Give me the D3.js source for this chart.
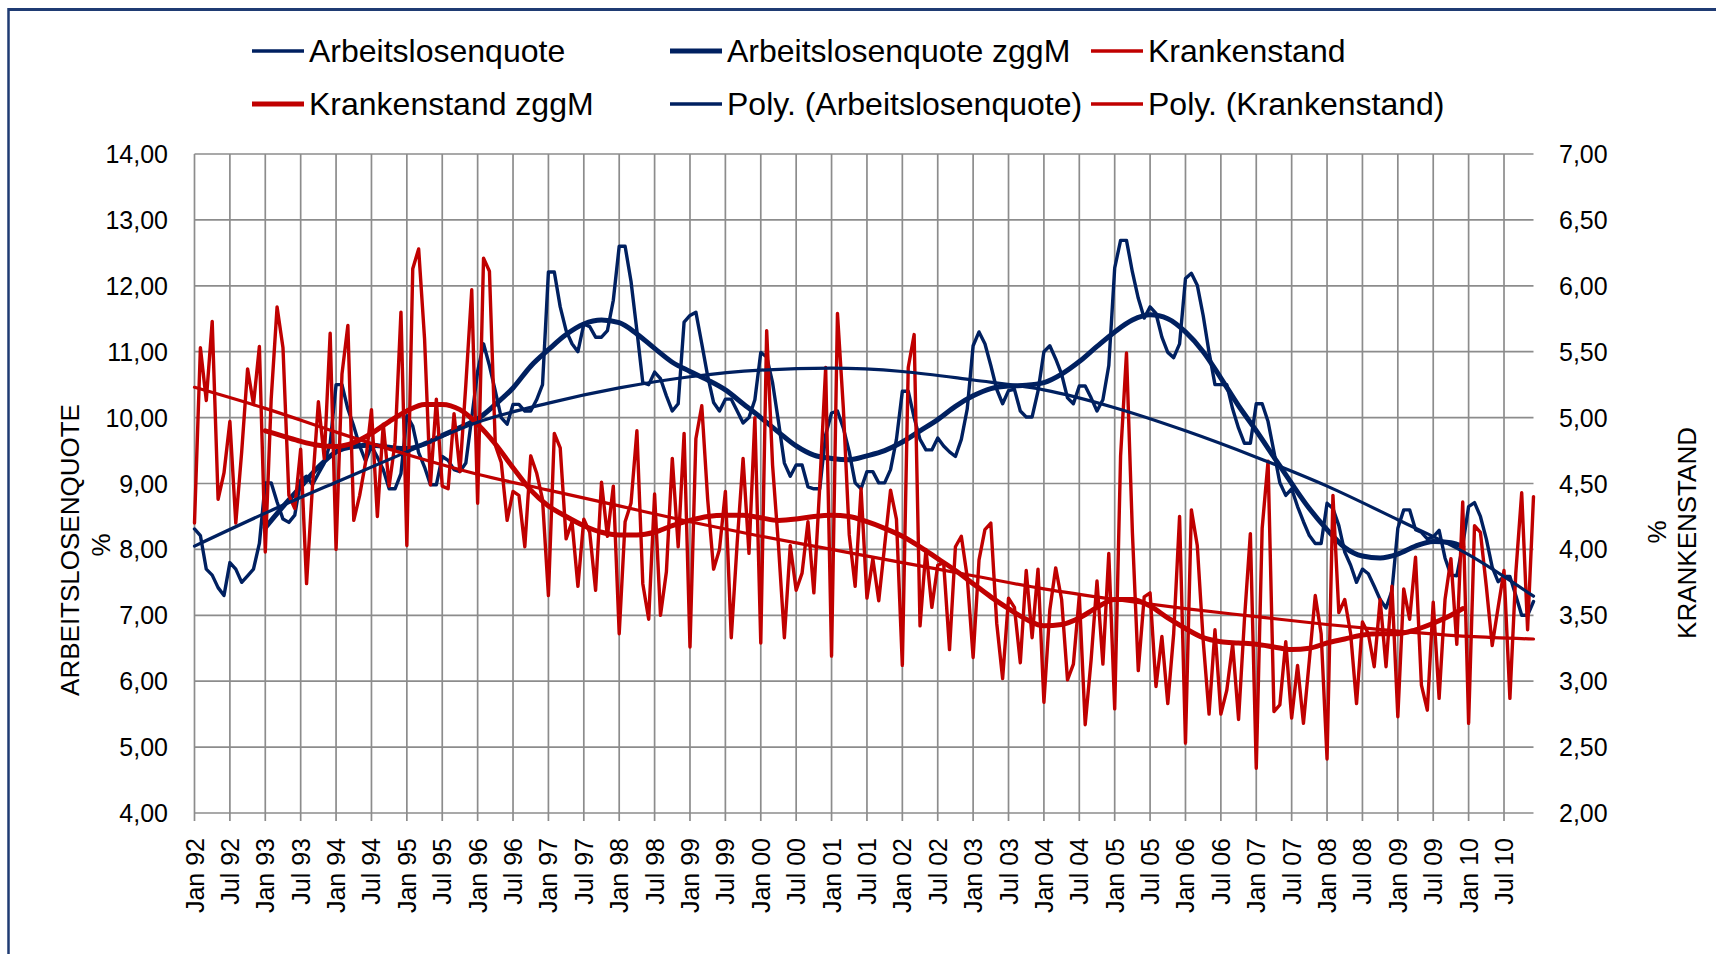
<!DOCTYPE html>
<html><head><meta charset="utf-8">
<script src="https://cdn.jsdelivr.net/npm/d3@7"></script>
<style>
body{margin:0;background:#fff}
svg{display:block}
text{font-family:"Liberation Sans",Arial,sans-serif;fill:#000}
</style>
</head><body>
<svg id="chart" width="1716" height="954"></svg>
<script>
// ---------- DATA ----------
const years = [1992,1993,1994,1995,1996,1997,1998,1999,2000,2001,2002,2003,2004,2005,2006,2007,2008,2009,2010];
const monthNames = ["Jan","Feb","Mär","Apr","Mai","Jun","Jul","Aug","Sep","Okt","Nov","Dez"];
const categories = years.flatMap(y => monthNames.map(m => m + " " + String(y % 100).padStart(2, "0")));
const tickLabels = categories.filter((c, i) => i % 6 === 0);

const leftTicks = [4,5,6,7,8,9,10,11,12,13,14];
const rightTicks = [2,2.5,3,3.5,4,4.5,5,5.5,6,6.5,7];

// Arbeitslosenquote (%), monthly Jan 92 – Dez 10
const arbeitslosenquote = [
8.31,8.21,7.70,7.61,7.42,7.30,7.80,7.70,7.50,7.60,7.70,8.09,
9.01,9.01,8.72,8.46,8.41,8.52,9.05,9.11,8.98,9.15,9.31,9.61,
10.50,10.50,10.13,9.87,9.57,9.34,9.57,9.40,9.21,8.92,8.92,9.15,
10.03,9.87,9.47,9.25,8.98,8.98,9.41,9.35,9.21,9.18,9.31,10.00,
10.70,11.12,10.79,10.40,10.00,9.90,10.20,10.20,10.10,10.10,10.27,10.50,
12.21,12.21,11.68,11.32,11.12,11.00,11.42,11.38,11.22,11.22,11.32,11.78,
12.60,12.60,12.07,11.32,10.53,10.50,10.69,10.59,10.33,10.10,10.21,11.45,
11.55,11.60,11.12,10.63,10.23,10.10,10.28,10.28,10.10,9.92,10.00,10.27,
10.99,10.92,10.53,9.94,9.31,9.11,9.28,9.28,8.95,8.92,8.92,9.74,
10.07,10.10,9.84,9.48,9.01,8.92,9.18,9.18,9.01,9.01,9.21,9.67,
10.40,10.40,10.00,9.67,9.51,9.51,9.69,9.57,9.48,9.41,9.67,10.13,
11.09,11.30,11.12,10.79,10.43,10.21,10.41,10.43,10.10,10.01,10.01,10.40,
11.00,11.09,10.89,10.66,10.30,10.21,10.48,10.48,10.30,10.10,10.27,10.79,
12.27,12.69,12.69,12.21,11.81,11.51,11.68,11.58,11.22,10.99,10.91,11.12,
12.11,12.19,12.01,11.55,10.99,10.50,10.50,10.50,10.13,9.84,9.61,9.61,
10.21,10.21,9.94,9.48,9.01,8.82,8.92,8.65,8.42,8.21,8.09,8.09,
8.70,8.62,8.36,7.96,7.76,7.50,7.70,7.63,7.44,7.24,7.11,7.37,
8.32,8.60,8.60,8.30,8.26,8.16,8.19,8.29,7.87,7.61,7.60,8.06,
8.65,8.71,8.50,8.16,7.73,7.51,7.59,7.59,7.30,7.00,7.00,7.21
];

// Krankenstand (%), monthly Jan 92 – Dez 10 (secondary axis)
const krankenstand = [
4.20,5.53,5.13,5.73,4.38,4.58,4.97,4.20,4.74,5.37,5.10,5.54,
3.98,5.14,5.84,5.53,4.41,4.31,4.76,3.74,4.48,5.12,4.69,5.64,
4.00,5.33,5.70,4.22,4.41,4.66,5.06,4.25,4.95,4.48,4.81,5.80,
4.03,6.13,6.28,5.60,4.49,5.14,4.48,4.46,5.03,4.59,5.25,5.97,
4.35,6.21,6.11,4.79,4.66,4.22,4.44,4.41,4.02,4.71,4.58,4.38,
3.65,4.88,4.77,4.08,4.21,3.72,4.23,4.13,3.69,4.51,4.10,4.48,
3.36,4.21,4.35,4.90,3.74,3.47,4.42,3.50,3.83,4.69,4.02,4.88,
3.26,4.84,5.09,4.38,3.85,4.00,4.44,3.33,4.05,4.69,3.97,5.00,
3.29,5.66,4.64,4.03,3.33,4.03,3.69,3.82,4.21,3.67,4.48,5.38,
3.19,5.79,5.07,4.11,3.72,4.46,3.63,3.93,3.61,4.03,4.45,4.23,
3.12,5.38,5.63,3.42,4.00,3.56,3.88,3.90,3.24,4.02,4.10,3.79,
3.18,3.92,4.15,4.20,3.44,3.02,3.63,3.56,3.14,3.84,3.33,3.85,
2.84,3.54,3.86,3.62,3.01,3.13,3.65,2.67,3.16,3.76,3.13,3.97,
2.79,4.71,5.49,4.13,3.08,3.64,3.67,2.96,3.34,2.83,3.36,4.25,
2.53,4.30,4.03,3.31,2.75,3.39,2.75,2.93,3.28,2.71,3.47,4.12,
2.34,4.16,4.67,2.77,2.82,3.30,2.72,3.12,2.68,3.16,3.65,3.36,
2.41,4.41,3.52,3.62,3.36,2.83,3.45,3.36,3.11,3.62,3.11,3.72,
2.73,3.70,3.47,3.94,2.97,2.78,3.60,2.87,3.62,3.93,3.28,4.36,
2.68,4.18,4.13,3.72,3.27,3.56,3.84,2.87,3.82,4.43,3.39,4.40
];

// zggM series, read at quarterly knots (category index)
const zggmIndex = [12,15,18,21,24,27,30,33,36,39,42,45,48,51,54,57,60,63,66,69,72,75,78,81,84,87,90,93,96,99,
  102,105,108,111,114,117,120,123,126,129,132,135,138,141,144,147,150,153,156,159,162,165,168,171,174,177,180,183,186,189,
  192,195,198,201,204,207,210,213,215];
const arbeitslosenquoteZggM = [8.33,8.65,8.95,9.25,9.48,9.56,9.58,9.55,9.53,9.60,9.73,9.85,9.98,10.20,10.45,10.78,11.03,11.26,11.42,11.48,
  11.44,11.27,11.05,10.84,10.70,10.57,10.42,10.21,10.00,9.78,9.57,9.43,9.38,9.36,9.42,9.50,9.63,9.80,9.97,10.17,
  10.33,10.44,10.48,10.49,10.53,10.66,10.85,11.08,11.30,11.48,11.56,11.50,11.30,11.00,10.60,10.18,9.80,9.40,9.00,8.62,
  8.30,8.03,7.90,7.87,7.93,8.05,8.12,8.10,8.04];
const krankenstandZggM = [4.90,4.86,4.82,4.79,4.78,4.81,4.88,4.97,5.05,5.10,5.10,5.06,4.95,4.80,4.62,4.45,4.33,4.25,4.18,4.13,
  4.11,4.11,4.13,4.18,4.22,4.25,4.26,4.26,4.24,4.22,4.23,4.25,4.26,4.25,4.21,4.16,4.10,4.02,3.93,3.84,
  3.74,3.64,3.55,3.47,3.42,3.43,3.48,3.56,3.62,3.62,3.57,3.48,3.40,3.33,3.30,3.29,3.28,3.26,3.24,3.25,
  3.29,3.32,3.35,3.36,3.36,3.39,3.44,3.50,3.55];

// Polynomial trend lines, read yearly
const polyIndex = [0,12,24,36,48,60,72,84,96,108,120,132,144,156,168,180,192,204,216,227];
const polyArbeitslosenquote = [8.05,8.55,9.02,9.48,9.93,10.22,10.45,10.62,10.72,10.75,10.70,10.57,10.42,10.15,9.80,9.40,8.96,8.45,7.92,7.29];
const polyKrankenstand = [5.23,5.07,4.89,4.72,4.57,4.45,4.33,4.21,4.10,4.00,3.90,3.80,3.70,3.62,3.55,3.49,3.43,3.38,3.34,3.32];

const legendItems = [
  {label:"Arbeitslosenquote", color:"#002060", w:3.5},
  {label:"Arbeitslosenquote zggM", color:"#002060", w:5},
  {label:"Krankenstand", color:"#C00000", w:3.5},
  {label:"Krankenstand zggM", color:"#C00000", w:5},
  {label:"Poly. (Arbeitslosenquote)", color:"#002060", w:3.5},
  {label:"Poly. (Krankenstand)", color:"#C00000", w:3.5}
];

// ---------- CHART ----------
const NAVY = "#002060", RED = "#C00000", GRID = "#8c8c8c";
const svg = d3.select("#chart");
const plot = {left:194.5, right:1533.5, top:154, bottom:813};
const fmt = d3.formatLocale({decimal:",", thousands:".", grouping:[3], currency:["","€"]}).format(".2f");

const x = d3.scalePoint().domain(categories).range([plot.left, plot.right]).padding(0);
const yL = d3.scaleLinear().domain([4,14]).range([plot.bottom, plot.top]);
const yR = d3.scaleLinear().domain([2,7]).range([plot.bottom, plot.top]);

// outer frame
svg.append("line").attr("x1",8).attr("x2",1716).attr("y1",9.5).attr("y2",9.5).attr("stroke","#1f3b73").attr("stroke-width",3);
svg.append("line").attr("x1",8.5).attr("x2",8.5).attr("y1",8).attr("y2",954).attr("stroke","#1f3b73").attr("stroke-width",2.5);

// grid
const g = svg.append("g");
g.selectAll("line.h").data(leftTicks).join("line")
  .attr("x1", plot.left).attr("x2", plot.right)
  .attr("y1", d => yL(d)).attr("y2", d => yL(d))
  .attr("stroke", GRID).attr("stroke-width", 1.7);
g.selectAll("line.v").data(tickLabels).join("line")
  .attr("x1", d => x(d)).attr("x2", d => x(d))
  .attr("y1", plot.top).attr("y2", plot.bottom + 8)
  .attr("stroke", GRID).attr("stroke-width", 1.7);

// axis labels
svg.append("g").selectAll("text").data(leftTicks).join("text")
  .attr("x", 168).attr("y", d => yL(d)).attr("text-anchor","end").attr("dominant-baseline","central")
  .style("font-size","25px").text(d => fmt(d));
svg.append("g").selectAll("text").data(rightTicks).join("text")
  .attr("x", 1559).attr("y", d => yR(d)).attr("text-anchor","start").attr("dominant-baseline","central")
  .style("font-size","25px").text(d => fmt(d));
svg.append("g").selectAll("text").data(tickLabels).join("text")
  .attr("transform", d => `translate(${x(d)},838) rotate(-90)`)
  .attr("text-anchor","end").attr("dominant-baseline","central")
  .style("font-size","25px").text(d => d);

// axis titles
svg.append("text").attr("transform","translate(70,550) rotate(-90)").attr("text-anchor","middle")
  .attr("dominant-baseline","central").style("font-size","26px").text("ARBEITSLOSENQUOTE");
svg.append("text").attr("transform","translate(101,545) rotate(-90)").attr("text-anchor","middle")
  .attr("dominant-baseline","central").style("font-size","26px").text("%");
svg.append("text").attr("transform","translate(1657,532) rotate(-90)").attr("text-anchor","middle")
  .attr("dominant-baseline","central").style("font-size","26px").text("%");
svg.append("text").attr("transform","translate(1687,533) rotate(-90)").attr("text-anchor","middle")
  .attr("dominant-baseline","central").style("font-size","26px").text("KRANKENSTAND");

// lines
const rawLine = (ys) => d3.line().x((d,i) => x(categories[i])).y(d => ys(d));
const knotLine = (idx, ys) => d3.line().x((d,i) => x(categories[idx[i]])).y(d => ys(d)).curve(d3.curveMonotoneX);

const lines = svg.append("g").attr("fill","none").attr("stroke-linejoin","round").attr("stroke-linecap","round");
lines.append("path").attr("d", rawLine(yL)(arbeitslosenquote)).attr("stroke", NAVY).attr("stroke-width", 3.4);
lines.append("path").attr("d", knotLine(zggmIndex, yL)(arbeitslosenquoteZggM)).attr("stroke", NAVY).attr("stroke-width", 5);
lines.append("path").attr("d", rawLine(yR)(krankenstand)).attr("stroke", RED).attr("stroke-width", 3.4);
lines.append("path").attr("d", knotLine(zggmIndex, yR)(krankenstandZggM)).attr("stroke", RED).attr("stroke-width", 5);
lines.append("path").attr("d", knotLine(polyIndex, yL)(polyArbeitslosenquote)).attr("stroke", NAVY).attr("stroke-width", 3.2);
lines.append("path").attr("d", knotLine(polyIndex, yR)(polyKrankenstand)).attr("stroke", RED).attr("stroke-width", 3.2);

// legend
const legPos = [[252,51],[670,51],[1091,51],[252,104],[670,104],[1091,104]];
const leg = svg.append("g").selectAll("g").data(legendItems).join("g")
  .attr("transform", (d,i) => `translate(${legPos[i][0]},${legPos[i][1]})`);
leg.append("line").attr("x1",0).attr("x2",52).attr("y1",0).attr("y2",0)
  .attr("stroke", d => d.color).attr("stroke-width", d => d.w);
leg.append("text").attr("x",57).attr("y",0).attr("dominant-baseline","central")
  .style("font-size","32px").text(d => d.label);
</script>
</body></html>
